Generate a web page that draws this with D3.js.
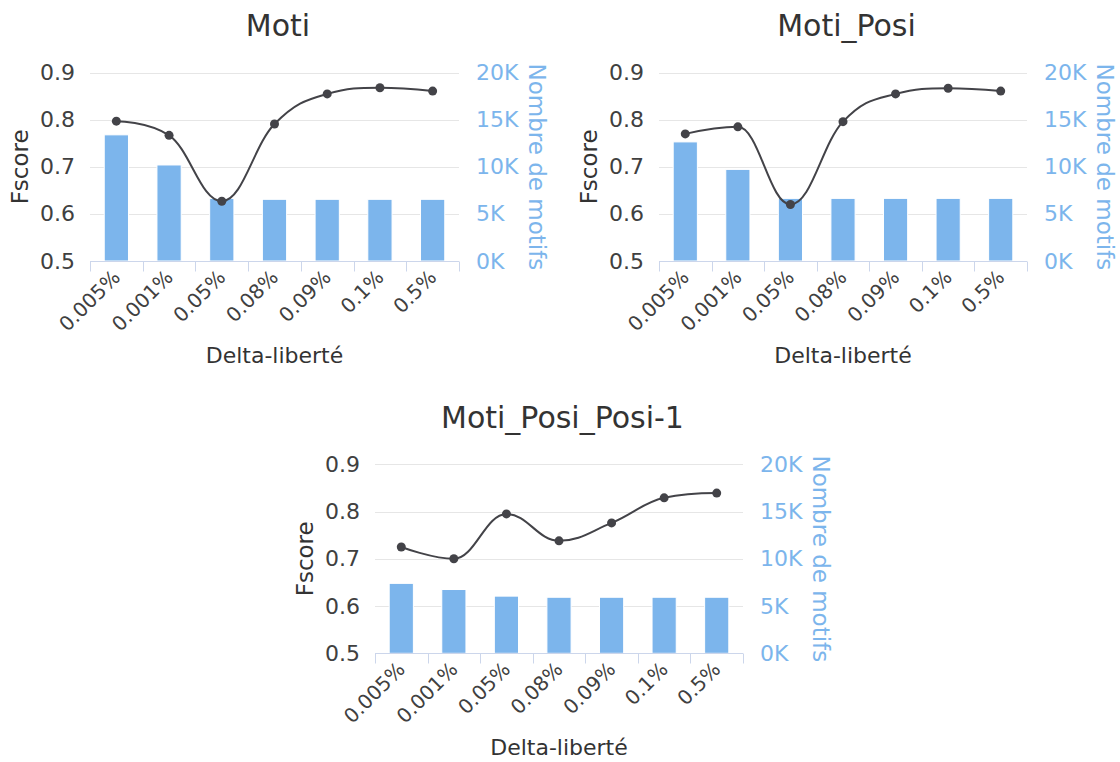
<!DOCTYPE html>
<html>
<head>
<meta charset="utf-8">
<script src="https://cdn.jsdelivr.net/npm/d3@7"></script>
<style>
  html, body { margin: 0; padding: 0; background: #fff; }
  svg { display: block; font-family: "DejaVu Sans", sans-serif; }
</style>
</head>
<body>
<svg id="chart" width="1120" height="762"></svg>
<script>
// ---------- data ----------
const categories = ["0.005%", "0.001%", "0.05%", "0.08%", "0.09%", "0.1%", "0.5%"];
const chartTitles = ["Moti", "Moti_Posi", "Moti_Posi_Posi-1"];

const motiFscore = [0.797, 0.767, 0.627, 0.791, 0.855, 0.868, 0.861];
const motiCount  = [13400, 10200, 6650, 6550, 6550, 6550, 6550];

const motiPosiFscore = [0.770, 0.785, 0.620, 0.796, 0.855, 0.867, 0.861];
const motiPosiCount  = [12650, 9730, 6650, 6650, 6650, 6650, 6650];

const motiPosiPosi1Fscore = [0.725, 0.700, 0.795, 0.738, 0.776, 0.829, 0.839];
const motiPosiPosi1Count  = [7400, 6750, 6050, 5930, 5930, 5930, 5930];

const fscoreTicks = [0.5, 0.6, 0.7, 0.8, 0.9];
const countTicks  = [0, 5000, 10000, 15000, 20000];
const countTickLabels = ["0K", "5K", "10K", "15K", "20K"];

const leftAxisTitle = "Fscore";
const rightAxisTitle = "Nombre de motifs";
const xAxisTitle = "Delta-liberté";

// ---------- layout (styling only) ----------
const panels = [
  { title: chartTitles[0], f: motiFscore, c: motiCount, left: 90, right: 459, top: 72.7, bottom: 261 },
  { title: chartTitles[1], f: motiPosiFscore, c: motiPosiCount, left: 659, right: 1027, top: 72.7, bottom: 261 },
  { title: chartTitles[2], f: motiPosiPosi1Fscore, c: motiPosiPosi1Count, left: 375, right: 743, top: 464.3, bottom: 653.3 }
];

const BLUE = "#7cb5ec";
const LINE = "#434348";
const TEXT = "#333333";
const LABEL = "#404040";

const svg = d3.select("#chart");

// Highcharts-like spline path
function splinePath(pts) {
  const p = d3.path();
  const smoothing = 1.5, denom = smoothing + 1;
  const cont = pts.map(() => ({}));
  pts.forEach((pt, i) => {
    if (i > 0 && i < pts.length - 1) {
      const [lx, ly] = pts[i - 1], [nx, ny] = pts[i + 1], [x, y] = pt;
      let lcx = (smoothing * x + lx) / denom, lcy = (smoothing * y + ly) / denom;
      let rcx = (smoothing * x + nx) / denom, rcy = (smoothing * y + ny) / denom;
      let corr = 0;
      if (rcx !== lcx) corr = ((rcy - lcy) * (rcx - x)) / (rcx - lcx) + y - rcy;
      lcy += corr; rcy += corr;
      if (lcy > ly && lcy > y) { lcy = Math.max(ly, y); rcy = 2 * y - lcy; }
      else if (lcy < ly && lcy < y) { lcy = Math.min(ly, y); rcy = 2 * y - lcy; }
      if (rcy > ny && rcy > y) { rcy = Math.max(ny, y); lcy = 2 * y - rcy; }
      else if (rcy < ny && rcy < y) { rcy = Math.min(ny, y); lcy = 2 * y - rcy; }
      cont[i] = { lcx, lcy, rcx, rcy };
    }
  });
  pts.forEach((pt, i) => {
    if (i === 0) { p.moveTo(pt[0], pt[1]); return; }
    const prev = pts[i - 1], pc = cont[i - 1], cc = cont[i];
    p.bezierCurveTo(
      pc.rcx !== undefined ? pc.rcx : prev[0], pc.rcy !== undefined ? pc.rcy : prev[1],
      cc.lcx !== undefined ? cc.lcx : pt[0], cc.lcy !== undefined ? cc.lcy : pt[1],
      pt[0], pt[1]);
  });
  return p.toString();
}

panels.forEach(pn => {
  const g = svg.append("g");
  const x = d3.scaleBand().domain(categories).range([pn.left, pn.right]).padding(0);
  const yF = d3.scaleLinear().domain([0.5, 0.9]).range([pn.bottom, pn.top]);
  const yC = d3.scaleLinear().domain([0, 20000]).range([pn.bottom, pn.top]);
  const cx = d => x(d) + x.bandwidth() / 2;
  const midX = (pn.left + pn.right) / 2;
  const midY = (pn.top + pn.bottom) / 2;

  // title
  g.append("text").attr("x", midX + 3.5).attr("y", pn.top - 36.5)
    .attr("text-anchor", "middle").attr("font-size", 30).attr("fill", TEXT)
    .text(pn.title);

  // grid lines
  g.append("g").selectAll("line").data(fscoreTicks).join("line")
    .attr("x1", pn.left).attr("x2", pn.right)
    .attr("y1", d => Math.round(yF(d)) + 0.5).attr("y2", d => Math.round(yF(d)) + 0.5)
    .attr("stroke", "#e6e6e6").attr("stroke-width", 1);

  // left axis labels
  const leftAxis = d3.axisLeft(yF).tickValues(fscoreTicks).tickSize(0).tickPadding(15).tickFormat(d3.format(".1f"));
  const la = g.append("g").attr("transform", `translate(${pn.left},0)`).call(leftAxis);
  la.select(".domain").remove();
  la.selectAll("text").attr("font-size", 22).attr("fill", LABEL).attr("font-family", "DejaVu Sans");

  // right axis labels
  const rightAxis = d3.axisRight(yC).tickValues(countTicks).tickSize(0).tickPadding(17)
    .tickFormat((d, i) => countTickLabels[i]);
  const ra = g.append("g").attr("transform", `translate(${pn.right},0)`).call(rightAxis);
  ra.select(".domain").remove();
  ra.selectAll("text").attr("font-size", 22).attr("fill", BLUE).attr("font-family", "DejaVu Sans");

  // bars
  const bw = x.bandwidth() * 0.46;
  g.append("g").selectAll("rect").data(categories).join("rect")
    .attr("x", (d) => cx(d) - bw / 2)
    .attr("y", (d, i) => yC(pn.c[i]))
    .attr("width", bw)
    .attr("height", (d, i) => yC(0) - yC(pn.c[i]))
    .attr("fill", BLUE).attr("stroke", "#ffffff").attr("stroke-width", 1);

  // x axis
  const bottomAxis = d3.axisBottom(x).tickSize(0).tickFormat("");
  const xa = g.append("g").attr("transform", `translate(0,${Math.round(pn.bottom) + 0.5})`).call(bottomAxis);
  xa.select(".domain").attr("stroke", "#ccd6eb").attr("d", `M${pn.left},0H${pn.right}`);
  xa.selectAll(".tick").remove();
  const boundaries = categories.map(d => x(d)).concat([pn.right]);
  xa.selectAll("line.tk").data(boundaries).join("line").attr("class", "tk")
    .attr("x1", d => Math.round(d) + 0.5).attr("x2", d => Math.round(d) + 0.5)
    .attr("y1", 0).attr("y2", 10).attr("stroke", "#ccd6eb");
  xa.selectAll("text.lbl").data(categories).join("text").attr("class", "lbl")
    .attr("transform", d => `translate(${cx(d) + 5},${17}) rotate(-45)`)
    .attr("text-anchor", "end").attr("font-size", 20).attr("fill", LABEL)
    .attr("font-family", "DejaVu Sans")
    .text(d => d);

  // line series
  const pts = categories.map((d, i) => [cx(d), yF(pn.f[i])]);
  g.append("path").attr("d", splinePath(pts)).attr("fill", "none")
    .attr("stroke", LINE).attr("stroke-width", 2);
  g.append("g").selectAll("circle").data(pts).join("circle")
    .attr("cx", d => d[0]).attr("cy", d => d[1]).attr("r", 4.5).attr("fill", LINE);

  // axis titles
  g.append("text").attr("transform", `translate(${pn.left - 62},${midY}) rotate(-90)`)
    .attr("text-anchor", "middle").attr("font-size", 23).attr("fill", TEXT).text(leftAxisTitle);
  g.append("text").attr("transform", `translate(${pn.right + 70},${midY}) rotate(90)`)
    .attr("text-anchor", "middle").attr("font-size", 23).attr("fill", BLUE).text(rightAxisTitle);
  g.append("text").attr("x", midX).attr("y", pn.bottom + 102)
    .attr("text-anchor", "middle").attr("font-size", 22).attr("fill", TEXT).text(xAxisTitle);
});
</script>
</body>
</html>
